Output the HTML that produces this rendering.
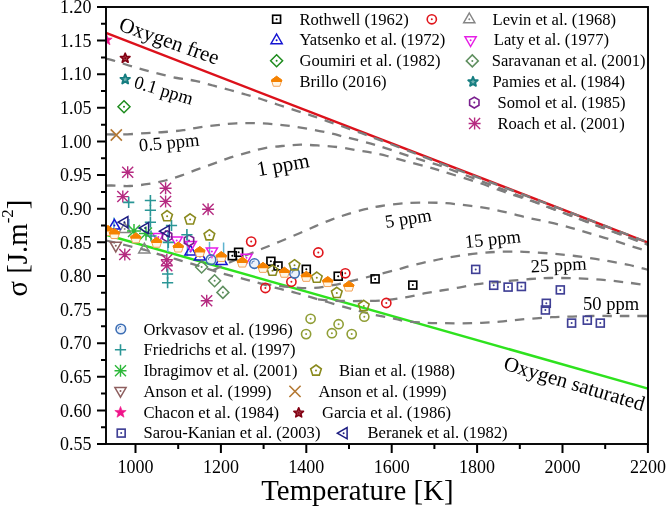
<!DOCTYPE html>
<html><head><meta charset="utf-8">
<style>
html,body{margin:0;padding:0;background:#fff;}
svg{display:block;will-change:transform;}
text{font-family:"Liberation Serif",serif;fill:#000;}
.t18{font-size:18px;}
.lg{font-size:16.6px;}
.t21{font-size:21px;}
.tp{font-size:18.5px;}
.t28{font-size:28.8px;}
</style></head><body>
<svg width="666" height="507" viewBox="0 0 666 507">
<defs>
<clipPath id="plotclip"><rect x="106" y="7" width="542" height="437"/></clipPath>
<g id="sq"><rect x="-3.95" y="-3.95" width="7.9" height="7.9" fill="none" stroke="currentColor" stroke-width="1.65"/><circle r="1.0" fill="currentColor"/></g>
<g id="ci"><circle r="4.6" fill="none" stroke="currentColor" stroke-width="1.6"/><circle r="1.0" fill="currentColor"/></g>
<g id="tu"><polygon points="0,-5.6 5.6,4.1 -5.6,4.1" fill="none" stroke="currentColor" stroke-width="1.5" stroke-linejoin="miter"/><circle cy="0.6" r="1.0" fill="currentColor"/></g>
<g id="td"><polygon points="0,5.6 5.6,-4.1 -5.6,-4.1" fill="none" stroke="currentColor" stroke-width="1.5"/><circle cy="-0.6" r="1.0" fill="currentColor"/></g>
<g id="tl"><polygon points="-5.6,0 4.1,-5.6 4.1,5.6" fill="none" stroke="currentColor" stroke-width="1.5"/><circle cx="0.6" r="1.0" fill="currentColor"/></g>
<g id="di"><polygon points="0,-6 6,0 0,6 -6,0" fill="none" stroke="currentColor" stroke-width="1.5"/><circle r="1.0" fill="currentColor"/></g>
<g id="pe"><polygon points="0.00,-5.60 5.33,-1.73 3.29,4.53 -3.29,4.53 -5.33,-1.73" fill="none" stroke="currentColor" stroke-width="1.6"/><circle r="1.0" fill="currentColor"/></g>
<g id="hx"><polygon points="0.00,-5.40 4.68,-2.70 4.68,2.70 0.00,5.40 -4.68,2.70 -4.68,-2.70" fill="none" stroke="currentColor" stroke-width="1.6"/><circle r="1.0" fill="currentColor"/></g>
<g id="sf"><polygon points="0.00,-6.00 1.47,-2.02 5.71,-1.85 2.38,0.77 3.53,4.85 0.00,2.50 -3.53,4.85 -2.38,0.77 -5.71,-1.85 -1.47,-2.02" fill="currentColor" stroke="currentColor" stroke-width="0.6" stroke-linejoin="round"/></g>
<g id="so"><polygon points="0.00,-5.00 1.29,-1.78 4.76,-1.55 2.09,0.68 2.94,4.05 0.00,2.20 -2.94,4.05 -2.09,0.68 -4.76,-1.55 -1.29,-1.78" fill="#b85a66" stroke="currentColor" stroke-width="1.7" stroke-linejoin="round"/><polygon points="0.00,-1.80 0.47,-0.65 1.71,-0.56 0.76,0.25 1.06,1.46 0.00,0.80 -1.06,1.46 -0.76,0.25 -1.71,-0.56 -0.47,-0.65" fill="currentColor"/></g>
<g id="sp"><polygon points="0.00,-5.00 1.29,-1.78 4.76,-1.55 2.09,0.68 2.94,4.05 0.00,2.20 -2.94,4.05 -2.09,0.68 -4.76,-1.55 -1.29,-1.78" fill="#6fb0b0" stroke="currentColor" stroke-width="1.9" stroke-linejoin="round"/></g>
<g id="as" stroke="currentColor" stroke-width="1.4"><path d="M0,-6V6M-6,0H6M-5.5,-5.5L5.5,5.5M-5.5,5.5L5.5,-5.5"/></g>
<g id="as2" stroke="currentColor" stroke-width="1.5"><path d="M0,-7V7M-7,0H7M-6,-6L6,6M-6,6L6,-6"/></g>
<g id="pl" stroke="currentColor" stroke-width="1.6"><path d="M0,-5.6V5.6M-5.6,0H5.6"/></g>
<g id="xx" stroke="currentColor" stroke-width="1.6"><path d="M-5.6,-5.6L5.6,5.6M-5.6,5.6L5.6,-5.6"/></g>
<g id="ok"><circle r="4.8" fill="#c8d8f0" fill-opacity="0.35" stroke="currentColor" stroke-width="1.6"/><path d="M-2.6,0.2A2.6,2.6 0 0 1 0.2,-2.6" fill="none" stroke="currentColor" stroke-width="0.9"/></g>
<g id="br"><clipPath id="brc"><rect x="-8" y="-8" width="16" height="8.9"/></clipPath><polygon points="0.00,-4.90 5.23,-1.10 3.23,5.05 -3.23,5.05 -5.23,-1.10" fill="#fff6e6" stroke="#f2a35a" stroke-width="1"/><polygon points="0.00,-4.90 5.23,-1.10 3.23,5.05 -3.23,5.05 -5.23,-1.10" fill="#f58200" stroke="#f58200" stroke-width="1" clip-path="url(#brc)"/></g>
</defs>
<line x1="106" y1="32.94" x2="648" y2="242.51" stroke="#dc111b" stroke-width="2.4"/>
<line x1="106" y1="234.70" x2="648" y2="388.63" stroke="#2ee21e" stroke-width="2.5"/>
<path d="M106.00,58.80 C106.88,58.97 106.72,58.45 111.30,59.80 C115.88,61.15 126.25,64.75 133.50,66.90 C140.75,69.05 147.55,70.85 154.80,72.70 C162.05,74.55 170.25,76.65 177.00,78.00 C183.75,79.35 189.33,79.55 195.30,80.80 C201.27,82.05 207.05,83.97 212.80,85.50 C218.55,87.03 224.33,88.50 229.80,90.00 C235.27,91.50 240.42,93.00 245.60,94.50 C250.78,96.00 255.62,97.33 260.90,99.00 C266.18,100.67 271.70,102.65 277.30,104.50 C282.90,106.35 288.92,108.30 294.50,110.10 C300.08,111.90 305.48,113.52 310.80,115.30 C316.12,117.08 320.87,118.85 326.40,120.80 C331.93,122.75 338.13,124.93 344.00,127.00 C349.87,129.07 356.03,131.18 361.60,133.20 C367.17,135.22 369.37,136.07 377.40,139.10 C385.43,142.13 401.75,148.32 409.80,151.40 C417.85,154.48 420.43,155.55 425.70,157.60 C430.97,159.65 433.18,160.56 441.40,163.70 C449.62,166.84 463.57,172.09 475.00,176.41 C486.43,180.74 497.50,184.91 510.00,189.65 C522.50,194.38 535.00,199.10 550.00,204.81 C565.00,210.53 583.67,217.66 600.00,223.95 C616.33,230.23 640.00,239.41 648.00,242.51" stroke="#7d7d7d" stroke-width="2.3" fill="none" stroke-dasharray="9.5 8"/>
<path d="M106.00,134.30 C107.63,134.33 112.25,134.50 115.80,134.50 C119.35,134.50 122.13,134.53 127.30,134.30 C132.47,134.07 140.58,133.48 146.80,133.10 C153.02,132.72 158.53,132.48 164.60,132.00 C170.67,131.52 177.42,130.97 183.20,130.20 C188.98,129.43 193.62,128.25 199.30,127.40 C204.98,126.55 211.17,125.78 217.30,125.10 C223.43,124.42 229.77,123.62 236.10,123.30 C242.43,122.98 248.92,123.05 255.30,123.20 C261.68,123.35 268.20,123.68 274.40,124.20 C280.60,124.72 286.40,125.45 292.50,126.30 C298.60,127.15 304.85,128.17 311.00,129.30 C317.15,130.43 323.65,131.80 329.40,133.10 C335.15,134.40 340.02,135.73 345.50,137.10 C350.98,138.47 356.62,139.78 362.30,141.30 C367.98,142.82 371.82,143.75 379.60,146.20 C387.38,148.65 401.37,153.50 409.00,156.00 C416.63,158.50 419.92,159.48 425.40,161.20 C430.88,162.92 433.63,163.36 441.90,166.30 C450.17,169.24 463.65,174.51 475.00,178.81 C486.35,183.12 497.83,187.48 510.00,192.15 C522.17,196.82 533.00,201.11 548.00,206.84 C563.00,212.57 583.33,220.30 600.00,226.55 C616.67,232.79 640.00,241.35 648.00,244.31" stroke="#7d7d7d" stroke-width="2.3" fill="none" stroke-dasharray="9.5 8"/>
<path d="M106.00,185.60 C106.90,185.58 107.42,185.43 111.40,185.50 C115.38,185.57 123.70,186.27 129.90,186.00 C136.10,185.73 142.67,184.82 148.60,183.90 C154.53,182.98 159.98,181.92 165.50,180.50 C171.02,179.08 176.27,177.30 181.70,175.40 C187.13,173.50 192.67,171.10 198.10,169.10 C203.53,167.10 209.00,165.30 214.30,163.40 C219.60,161.50 224.38,159.50 229.90,157.70 C235.42,155.90 241.55,154.20 247.40,152.60 C253.25,151.00 258.87,149.23 265.00,148.10 C271.13,146.97 278.25,146.37 284.20,145.80 C290.15,145.23 294.78,144.73 300.70,144.70 C306.62,144.67 313.37,145.18 319.70,145.60 C326.03,146.02 332.53,146.43 338.70,147.20 C344.87,147.97 351.20,149.30 356.70,150.20 C362.20,151.10 366.65,151.63 371.70,152.60 C376.75,153.57 381.08,154.50 387.00,156.00 C392.92,157.50 400.45,159.80 407.20,161.60 C413.95,163.40 421.47,165.12 427.50,166.80 C433.53,168.48 435.12,169.14 443.40,171.70 C451.68,174.26 468.62,179.35 477.20,182.16 C485.78,184.98 488.88,186.50 494.90,188.61 C500.92,190.72 507.33,192.80 513.30,194.82 C519.27,196.85 525.02,198.72 530.70,200.75 C536.38,202.78 541.62,204.84 547.40,207.01 C553.18,209.18 559.68,211.61 565.40,213.77 C571.12,215.93 574.27,217.16 581.70,219.97 C589.13,222.78 598.95,226.47 610.00,230.61 C621.05,234.75 641.67,242.44 648.00,244.81" stroke="#7d7d7d" stroke-width="2.3" fill="none" stroke-dasharray="9.5 8"/>
<path d="M106.00,240.50 C109.50,241.33 120.50,243.92 127.00,245.50 C133.50,247.08 139.67,248.53 145.00,250.00 C150.33,251.47 153.83,252.77 159.00,254.30 C164.17,255.83 170.33,257.55 176.00,259.20 C181.67,260.85 187.03,262.37 193.00,264.20 C198.97,266.03 206.17,268.45 211.80,270.20 C217.43,271.95 221.68,273.30 226.80,274.70 C231.92,276.10 237.47,277.30 242.50,278.60 C247.53,279.90 251.22,280.90 257.00,282.50 C262.78,284.10 271.03,286.57 277.20,288.20 C283.37,289.83 288.28,290.77 294.00,292.30 C299.72,293.83 303.17,294.98 311.50,297.40 C319.83,299.82 336.08,304.53 344.00,306.80 C351.92,309.07 353.75,309.63 359.00,311.00 C364.25,312.37 369.83,313.77 375.50,315.00 C381.17,316.23 388.08,317.40 393.00,318.40 C397.92,319.40 399.50,320.27 405.00,321.00 C410.50,321.73 419.55,322.43 426.00,322.80 C432.45,323.17 437.65,323.12 443.70,323.20 C449.75,323.28 456.00,323.37 462.30,323.30 C468.60,323.23 475.22,323.08 481.50,322.80 C487.78,322.52 493.65,322.13 500.00,321.60 C506.35,321.07 511.00,320.33 519.60,319.60 C528.20,318.87 542.77,317.70 551.60,317.20 C560.43,316.70 565.80,316.80 572.60,316.60 C579.40,316.40 586.08,316.10 592.40,316.00 C598.72,315.90 604.32,316.00 610.50,316.00 C616.68,316.00 623.25,316.00 629.50,316.00 C635.75,316.00 644.92,316.00 648.00,316.00" stroke="#7d7d7d" stroke-width="2.3" fill="none" stroke-dasharray="9.5 8"/>
<path d="M213.00,270.30 C215.83,268.97 224.50,264.80 230.00,262.30 C235.50,259.80 240.67,257.55 246.00,255.30 C251.33,253.05 256.33,251.10 262.00,248.80 C267.67,246.50 273.75,244.10 280.00,241.50 C286.25,238.90 293.43,235.82 299.50,233.20 C305.57,230.58 310.95,228.12 316.40,225.80 C321.85,223.48 326.98,221.23 332.20,219.30 C337.42,217.37 342.18,215.88 347.70,214.20 C353.22,212.52 359.68,210.57 365.30,209.20 C370.92,207.83 374.90,207.00 381.40,206.00 C387.90,205.00 396.47,203.77 404.30,203.20 C412.13,202.63 421.42,202.60 428.40,202.60 C435.38,202.60 440.57,202.82 446.20,203.20 C451.83,203.58 456.63,204.25 462.20,204.90 C467.77,205.55 474.05,206.27 479.60,207.10 C485.15,207.93 489.93,208.75 495.50,209.90 C501.07,211.05 507.25,212.58 513.00,214.00 C518.75,215.42 524.62,217.17 530.00,218.40 C535.38,219.63 539.75,220.18 545.30,221.40 C550.85,222.62 557.80,224.28 563.30,225.70 C568.80,227.12 573.27,228.42 578.30,229.90 C583.33,231.38 588.18,233.02 593.50,234.60 C598.82,236.18 604.75,237.75 610.20,239.40 C615.65,241.05 620.82,242.78 626.20,244.50 C631.58,246.22 638.87,248.55 642.50,249.70 C646.13,250.85 647.08,251.12 648.00,251.40" stroke="#7d7d7d" stroke-width="2.3" fill="none" stroke-dasharray="9.5 8"/>
<path d="M262.00,283.60 C264.17,283.88 269.95,284.70 275.00,285.30 C280.05,285.90 286.13,286.73 292.30,287.20 C298.47,287.67 305.22,288.43 312.00,288.10 C318.78,287.77 324.95,286.73 333.00,285.20 C341.05,283.67 352.47,280.78 360.30,278.90 C368.13,277.02 373.62,275.50 380.00,273.90 C386.38,272.30 393.68,270.62 398.60,269.30 C403.52,267.98 404.98,267.18 409.50,266.00 C414.02,264.82 420.08,263.45 425.70,262.20 C431.32,260.95 437.23,259.63 443.20,258.50 C449.17,257.37 455.28,256.30 461.50,255.40 C467.72,254.50 474.08,253.70 480.50,253.10 C486.92,252.50 492.75,252.02 500.00,251.80 C507.25,251.58 515.40,251.50 524.00,251.80 C532.60,252.10 543.10,252.90 551.60,253.60 C560.10,254.30 567.68,255.12 575.00,256.00 C582.32,256.88 589.18,257.92 595.50,258.90 C601.82,259.88 607.23,260.88 612.90,261.90 C618.57,262.92 624.37,263.87 629.50,265.00 C634.63,266.13 640.62,267.90 643.70,268.70 C646.78,269.50 647.28,269.62 648.00,269.80" stroke="#7d7d7d" stroke-width="2.3" fill="none" stroke-dasharray="9.5 8"/>
<path d="M318.00,299.40 C320.00,299.60 325.72,300.33 330.00,300.60 C334.28,300.87 338.45,300.93 343.70,301.00 C348.95,301.07 355.12,301.08 361.50,301.00 C367.88,300.92 374.68,301.10 382.00,300.50 C389.32,299.90 398.17,298.62 405.40,297.40 C412.63,296.18 419.43,294.35 425.40,293.20 C431.37,292.05 435.63,291.43 441.20,290.50 C446.77,289.57 452.83,288.65 458.80,287.60 C464.77,286.55 469.48,285.22 477.00,284.20 C484.52,283.18 495.07,282.37 503.90,281.50 C512.73,280.63 522.32,279.58 530.00,279.00 C537.68,278.42 543.28,278.13 550.00,278.00 C556.72,277.87 563.50,278.03 570.30,278.20 C577.10,278.37 584.35,278.62 590.80,279.00 C597.25,279.38 603.08,279.93 609.00,280.50 C614.92,281.07 620.78,281.73 626.30,282.40 C631.82,283.07 638.48,284.02 642.10,284.50 C645.72,284.98 647.02,285.17 648.00,285.30" stroke="#7d7d7d" stroke-width="2.3" fill="none" stroke-dasharray="9.5 8"/>
<g clip-path="url(#plotclip)">
<path d="M113.9,217.5V229 M129,219V230 M167.8,232V252 M187.4,234V256 M209.5,242V256 M223.6,242.5V258" stroke="#5db3cf" stroke-width="1.5"/>
<use href="#sq" x="232.3" y="255.7" color="#000000"/>
<use href="#sq" x="238.6" y="252.3" color="#000000"/>
<use href="#sq" x="270.9" y="261.3" color="#000000"/>
<use href="#sq" x="278" y="266" color="#000000"/>
<use href="#sq" x="306.3" y="269.3" color="#000000"/>
<use href="#sq" x="338.2" y="276.2" color="#000000"/>
<use href="#sq" x="375.1" y="278.9" color="#000000"/>
<use href="#sq" x="412.8" y="285.1" color="#000000"/>
<use href="#ci" x="251.2" y="241.6" color="#e0161c"/>
<use href="#ci" x="265.4" y="288" color="#e0161c"/>
<use href="#ci" x="291.4" y="281.8" color="#e0161c"/>
<use href="#ci" x="318.3" y="252.5" color="#e0161c"/>
<use href="#ci" x="345.3" y="273.3" color="#e0161c"/>
<use href="#ci" x="386.3" y="303" color="#e0161c"/>
<use href="#tu" x="124.7" y="228.4" color="#858585"/>
<use href="#tu" x="144.3" y="248.8" color="#858585"/>
<use href="#tu" x="114.4" y="225" color="#1414d2"/>
<use href="#tu" x="200" y="256" color="#1414d2"/>
<use href="#tu" x="221.5" y="260.5" color="#1414d2"/>
<use href="#tu" x="190.5" y="251" color="#1414d2"/>
<use href="#td" x="158.3" y="237.5" color="#e61ee6"/>
<use href="#td" x="176.7" y="241" color="#e61ee6"/>
<use href="#td" x="190.8" y="245.5" color="#e61ee6"/>
<use href="#td" x="211.9" y="252" color="#e61ee6"/>
<use href="#td" x="246.5" y="258.3" color="#e61ee6"/>
<use href="#di" x="201.6" y="267" color="#5f8f5f"/>
<use href="#di" x="214.6" y="280.7" color="#5f8f5f"/>
<use href="#di" x="222.9" y="292.4" color="#5f8f5f"/>
<use href="#hx" x="167.1" y="236.2" color="#7a208f"/>
<use href="#hx" x="189" y="240.5" color="#7a208f"/>
<use href="#as" x="127.7" y="172.2" color="#b52a80"/>
<use href="#as" x="122.8" y="196.6" color="#b52a80"/>
<use href="#as" x="165.6" y="188.2" color="#b52a80"/>
<use href="#as" x="165.6" y="201.4" color="#b52a80"/>
<use href="#as" x="208.1" y="209.2" color="#b52a80"/>
<use href="#as" x="124.8" y="254.5" color="#b52a80"/>
<use href="#as" x="166.8" y="259.8" color="#b52a80"/>
<use href="#as" x="166.8" y="265.8" color="#b52a80"/>
<use href="#as" x="206.7" y="300.8" color="#b52a80"/>
<use href="#ok" x="211" y="259.7" color="#3d6fb5"/>
<use href="#ok" x="254.4" y="263.6" color="#3d6fb5"/>
<use href="#ok" x="294.5" y="273.3" color="#3d6fb5"/>
<use href="#pl" x="128.7" y="202.4" color="#2a9696"/>
<use href="#pl" x="150.4" y="200.5" color="#2a9696"/>
<use href="#pl" x="150.4" y="210.3" color="#2a9696"/>
<use href="#pl" x="150.4" y="222.2" color="#2a9696"/>
<use href="#pl" x="171.5" y="225.5" color="#2a9696"/>
<use href="#pl" x="186.9" y="234.7" color="#2a9696"/>
<use href="#pl" x="167.6" y="274" color="#2a9696"/>
<use href="#pl" x="167.6" y="282.7" color="#2a9696"/>
<use href="#pl" x="151" y="236" color="#2a9696"/>
<use href="#pl" x="168.3" y="242.4" color="#2a9696"/>
<use href="#as2" x="146" y="233.5" color="#2db83a"/>
<use href="#as2" x="134" y="231" color="#2db83a"/>
<use href="#td" x="115.8" y="246.3" color="#8e5f5f"/>
<use href="#sq" x="475.7" y="269.4" color="#3f3f95"/>
<use href="#sq" x="493.7" y="285.3" color="#3f3f95"/>
<use href="#sq" x="508.1" y="287.1" color="#3f3f95"/>
<use href="#sq" x="521.4" y="286.5" color="#3f3f95"/>
<use href="#sq" x="546.3" y="303.3" color="#3f3f95"/>
<use href="#sq" x="545.4" y="310" color="#3f3f95"/>
<use href="#sq" x="560.3" y="289.9" color="#3f3f95"/>
<use href="#sq" x="571.6" y="323.1" color="#3f3f95"/>
<use href="#sq" x="587.3" y="320.2" color="#3f3f95"/>
<use href="#sq" x="600.3" y="323.1" color="#3f3f95"/>
<use href="#pe" x="167.1" y="216.2" color="#8a8a1e"/>
<use href="#pe" x="190.1" y="219.4" color="#8a8a1e"/>
<use href="#pe" x="209.4" y="235.3" color="#8a8a1e"/>
<use href="#pe" x="272.5" y="270.7" color="#8a8a1e"/>
<use href="#pe" x="294.5" y="265.3" color="#8a8a1e"/>
<use href="#pe" x="316.8" y="277.7" color="#8a8a1e"/>
<use href="#pe" x="336.8" y="292.9" color="#8a8a1e"/>
<use href="#pe" x="363.8" y="305.9" color="#8a8a1e"/>
<use href="#tl" x="123.8" y="222.2" color="#1e1e82"/>
<use href="#tl" x="144.5" y="228.1" color="#1e1e82"/>
<use href="#tl" x="165.1" y="231.2" color="#1e1e82"/>
<use href="#ci" x="310.6" y="318.8" color="#909e36"/>
<use href="#ci" x="306.1" y="334.1" color="#909e36"/>
<use href="#ci" x="338.6" y="324.2" color="#909e36"/>
<use href="#ci" x="331.9" y="333.2" color="#909e36"/>
<use href="#ci" x="351.7" y="334.1" color="#909e36"/>
<use href="#ci" x="364.3" y="316.7" color="#909e36"/>
<use href="#br" x="108" y="230.5" color="#f58200"/>
<use href="#br" x="114.5" y="233.5" color="#f58200"/>
<use href="#br" x="135.8" y="237.8" color="#f58200"/>
<use href="#br" x="156.6" y="242.2" color="#f58200"/>
<use href="#br" x="178.3" y="247" color="#f58200"/>
<use href="#br" x="199.8" y="251.5" color="#f58200"/>
<use href="#br" x="221.3" y="256.5" color="#f58200"/>
<use href="#br" x="242.3" y="262" color="#f58200"/>
<use href="#br" x="263" y="267.3" color="#f58200"/>
<use href="#br" x="284.4" y="272.2" color="#f58200"/>
<use href="#br" x="306.3" y="276.3" color="#f58200"/>
<use href="#br" x="327.7" y="281.5" color="#f58200"/>
<use href="#br" x="348.8" y="286" color="#f58200"/>
<use href="#sf" x="106.5" y="40" color="#f0148a"/>
<use href="#so" x="125.2" y="58.2" color="#820012"/>
<use href="#sp" x="125.2" y="79.4" color="#157d80"/>
<use href="#di" x="124" y="106.7" color="#1e8c1e"/>
<use href="#xx" x="116.3" y="135" color="#b47832"/>
</g>
<use href="#sq" x="276.6" y="19.2" color="#000000"/>
<text x="299.5" y="24.6" class="lg">Rothwell (1962)</text>
<use href="#tu" x="276.6" y="39.6" color="#1414d2"/>
<text x="299.5" y="45.42" class="lg">Yatsenko et al. (1972)</text>
<use href="#di" x="276.6" y="60.8" color="#1e8c1e"/>
<text x="299.5" y="66.24000000000001" class="lg">Goumiri et al. (1982)</text>
<use href="#br" x="276.6" y="81.2" color="#f58200"/>
<text x="299.5" y="87.06" class="lg">Brillo (2016)</text>
<use href="#ci" x="431.8" y="19.3" color="#e0161c"/>
<use href="#tu" x="469.3" y="18.6" color="#858585"/>
<text x="492.6" y="24.6" class="lg">Levin et al. (1968)</text>
<use href="#td" x="470.6" y="40.9" color="#e61ee6"/>
<text x="493.8" y="45.42" class="lg">Laty et al. (1977)</text>
<use href="#di" x="472.3" y="60.9" color="#5f8f5f"/>
<text x="491.7" y="66.24000000000001" class="lg">Saravanan et al. (2001)</text>
<use href="#sp" x="473" y="81.8" color="#157d80"/>
<text x="492.4" y="87.06" class="lg">Pamies et al. (1984)</text>
<use href="#hx" x="474.3" y="102.6" color="#7a208f"/>
<text x="497.5" y="107.88" class="lg">Somol et al. (1985)</text>
<use href="#as" x="474.6" y="123.5" color="#b52a80"/>
<text x="497.5" y="128.7" class="lg">Roach et al. (2001)</text>
<use href="#ok" x="120.8" y="329.0" color="#3d6fb5"/>
<text x="143.5" y="334.7" class="lg">Orkvasov et al. (1996)</text>
<use href="#pl" x="120.5" y="349.8" color="#2a9696"/>
<text x="143.5" y="355.41999999999996" class="lg">Friedrichs et al. (1997)</text>
<use href="#as" x="120.5" y="370.7" color="#2db83a"/>
<text x="143.5" y="376.14" class="lg">Ibragimov et al. (2001)</text>
<use href="#td" x="120.5" y="391.6" color="#8e5f5f"/>
<text x="143.5" y="396.86" class="lg">Anson et al. (1999)</text>
<use href="#sf" x="120.5" y="412.4" color="#f0148a"/>
<text x="143.5" y="417.58" class="lg">Chacon et al. (1984)</text>
<use href="#sq" x="121.2" y="433.1" color="#3f3f95"/>
<text x="143.5" y="438.29999999999995" class="lg">Sarou-Kanian et al. (2003)</text>
<use href="#pe" x="316" y="370.6" color="#8a8a1e"/>
<text x="339" y="376.14" class="lg">Bian et al. (1988)</text>
<use href="#xx" x="295" y="391.4" color="#b47832"/>
<text x="318.5" y="396.86" class="lg">Anson et al. (1999)</text>
<use href="#so" x="298.7" y="412.8" color="#820012"/>
<text x="322" y="417.58" class="lg">Garcia et al. (1986)</text>
<use href="#tl" x="343" y="433.2" color="#1e1e82"/>
<text x="367.5" y="438.29999999999995" class="lg">Beranek et al. (1982)</text>
<rect x="106" y="7" width="542" height="437" fill="none" stroke="#000" stroke-width="1.9"/>
<path d="M97,443.99H106 M101,427.19H106 M97,410.38H106 M101,393.57H106 M97,376.76H106 M101,359.96H106 M97,343.15H106 M101,326.34H106 M97,309.53H106 M101,292.73H106 M97,275.92H106 M101,259.11H106 M97,242.30H106 M101,225.50H106 M97,208.69H106 M101,191.88H106 M97,175.07H106 M101,158.27H106 M97,141.46H106 M101,124.65H106 M97,107.84H106 M101,91.04H106 M97,74.23H106 M101,57.42H106 M97,40.61H106 M101,23.81H106 M97,7.00H106 M135.50,444V453 M178.20,444V449 M220.90,444V453 M263.60,444V449 M306.30,444V453 M349.00,444V449 M391.70,444V453 M434.40,444V449 M477.10,444V453 M519.80,444V449 M562.50,444V453 M605.20,444V449 M647.90,444V453" stroke="#000" stroke-width="2" fill="none"/>
<text x="91.5" y="450.19" text-anchor="end" class="t18">0.55</text>
<text x="91.5" y="416.58" text-anchor="end" class="t18">0.60</text>
<text x="91.5" y="382.96" text-anchor="end" class="t18">0.65</text>
<text x="91.5" y="349.35" text-anchor="end" class="t18">0.70</text>
<text x="91.5" y="315.73" text-anchor="end" class="t18">0.75</text>
<text x="91.5" y="282.12" text-anchor="end" class="t18">0.80</text>
<text x="91.5" y="248.50" text-anchor="end" class="t18">0.85</text>
<text x="91.5" y="214.89" text-anchor="end" class="t18">0.90</text>
<text x="91.5" y="181.27" text-anchor="end" class="t18">0.95</text>
<text x="91.5" y="147.66" text-anchor="end" class="t18">1.00</text>
<text x="91.5" y="114.04" text-anchor="end" class="t18">1.05</text>
<text x="91.5" y="80.43" text-anchor="end" class="t18">1.10</text>
<text x="91.5" y="46.81" text-anchor="end" class="t18">1.15</text>
<text x="91.5" y="13.20" text-anchor="end" class="t18">1.20</text>
<text x="135.50" y="472.6" text-anchor="middle" class="t18">1000</text>
<text x="220.90" y="472.6" text-anchor="middle" class="t18">1200</text>
<text x="306.30" y="472.6" text-anchor="middle" class="t18">1400</text>
<text x="391.70" y="472.6" text-anchor="middle" class="t18">1600</text>
<text x="477.10" y="472.6" text-anchor="middle" class="t18">1800</text>
<text x="562.50" y="472.6" text-anchor="middle" class="t18">2000</text>
<text x="647.90" y="472.6" text-anchor="middle" class="t18">2200</text>
<text x="357.4" y="500.4" text-anchor="middle" class="t28">Temperature [K]</text>
<text transform="translate(26.6,248) rotate(-90)" text-anchor="middle" class="t28">σ [J.m<tspan dy="-14" font-size="17">-2</tspan><tspan dy="14">]</tspan></text>
<text transform="translate(117.8,30) rotate(19.5)" class="t21">Oxygen free</text>
<text transform="translate(502.4,369.2) rotate(16.6)" class="t21" style="font-size:20.8px">Oxygen saturated</text>
<text transform="translate(132.9,87.3) rotate(17)" class="tp">0.1 ppm</text>
<text transform="translate(139.5,151.5) rotate(-5.5)" class="tp">0.5 ppm</text>
<text transform="translate(258,176.2) rotate(-10)" class="tp" style="font-size:21px">1 ppm</text>
<text transform="translate(386,228) rotate(-9)" class="tp">5 ppm</text>
<text transform="translate(465.5,248) rotate(-6)" class="tp">15 ppm</text>
<text transform="translate(531,272.5) rotate(-3)" class="tp">25 ppm</text>
<text transform="translate(583,309.6)" class="tp">50 ppm</text>
</svg>
</body></html>
